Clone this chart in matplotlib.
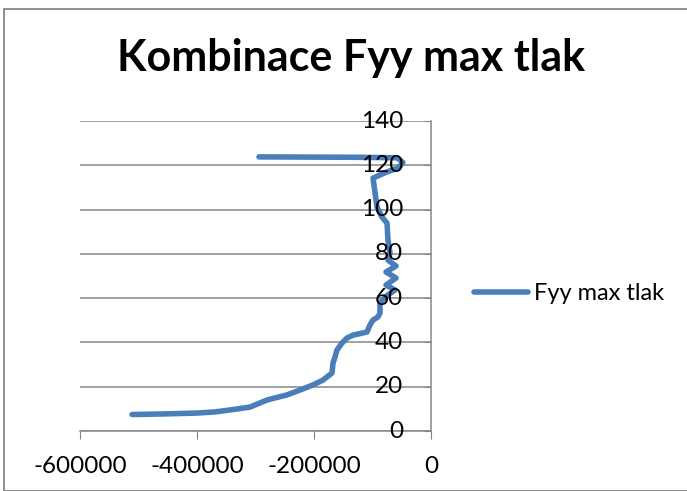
import matplotlib
matplotlib.use("Agg")
import matplotlib.pyplot as plt
from matplotlib.patches import Rectangle
from matplotlib.transforms import offset_copy

plt.rcParams["font.family"] = ["Lato", "DejaVu Sans"]

# Fyy (N) vs. height (m) from bottom to top
fyy = [-511000, -458000, -400000, -370000, -343600, -309400, -280300,
       -246200, -223900, -201700, -184600, -169200, -167500, -164100,
       -160700, -152100, -143600, -133300, -109400, -104300, -99100,
       -90600, -87200, -87200, -78600, -61500, -76900, -59800, -76900,
       -59800, -73500, -70100, -73500, -75200, -83800, -92300, -99100,
       -80000, -55000, -48000, -58000, -120000, -294000]
height = [7.45, 7.7, 8.1, 8.6, 9.5, 10.8, 14.0,
          16.3, 18.5, 20.8, 23.0, 26.2, 30.7, 33.4,
          36.6, 39.7, 42.0, 43.3, 44.7, 47.9, 50.1,
          51.5, 53.3, 57.8, 60.5, 63.7, 65.9, 69.1, 71.8,
          74.5, 77.2, 80.4, 86.2, 93.9, 96.6, 101.1, 114.2,
          116.5, 119.0, 121.3, 123.4, 123.6, 123.8]

x_ticks = [-600000, -400000, -200000, 0]
y_ticks = [0, 20, 40, 60, 80, 100, 120, 140]

W, H = 687, 491
fig = plt.figure(figsize=(W / 100, H / 100), dpi=100)

# chart border
fig.patches.append(Rectangle((4 / W, 0), 1, 1 - 9 / H, transform=fig.transFigure,
                             fill=False, edgecolor="#878787", linewidth=1.3))

ax = fig.add_axes([80 / W, 1 - 431 / H, (431 - 80) / W, (431 - 121) / H])
ax.plot(fyy, height, color="#4a7ebb", linewidth=4, solid_capstyle="round",
        solid_joinstyle="round", label="Fyy max tlak", zorder=3)

ax.set_xlim(-600000, 0)
ax.set_ylim(0, 140)
ax.set_xticks(x_ticks)
ax.set_xticklabels([str(v) for v in x_ticks])
ax.set_yticks(y_ticks)

for s in ["top", "left"]:
    ax.spines[s].set_visible(False)
ax.spines["right"].set_color("#868686")
ax.spines["bottom"].set_color("#868686")
ax.spines["right"].set_linewidth(1.1)
ax.spines["bottom"].set_linewidth(1.1)

ax.yaxis.grid(True, color="#868686", linewidth=1.1)
ax.set_axisbelow(True)

# y axis sits at x = 0; its labels go just left of it, on top of the line
ax.yaxis.tick_right()
ax.tick_params(axis="y", direction="in", length=5, color="#868686",
               labelright=False, labelleft=False)
lbl_tr = offset_copy(ax.get_yaxis_transform(), fig=fig, x=-28, y=0, units="dots")
for v in y_ticks:
    ax.text(1, v, str(v), transform=lbl_tr, ha="right", va="center",
            fontsize=17.5, zorder=5, clip_on=False)
ax.tick_params(axis="x", direction="out", length=6, color="#868686",
               labelsize=17.5, pad=12)

fig.text(351 / W, 1 - 58 / H, "Kombinace Fyy max tlak", ha="center",
         va="center", fontsize=31, fontweight="bold")

ax.legend(loc="center left", bbox_to_anchor=(474 / W, 1 - 294 / H),
          bbox_transform=fig.transFigure, frameon=False, fontsize=17,
          handlelength=2.3, handletextpad=0.25, borderpad=0, borderaxespad=0)

fig.savefig("out.png", dpi=100, facecolor="white")
